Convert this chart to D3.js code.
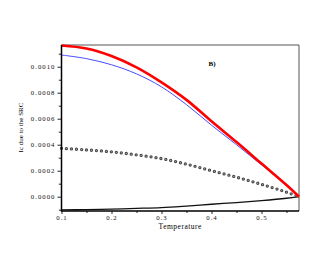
<!DOCTYPE html>
<html>
<head>
<meta charset="utf-8">
<script src="https://cdn.jsdelivr.net/npm/d3@7"></script>
<style>
  body { margin: 0; background: #fff; }
  svg { display: block; font-family: "Liberation Serif", "DejaVu Serif", serif; }
</style>
</head>
<body>
<div id="chart"></div>
<script>
// temperature samples
const temps = [0.1, 0.15, 0.2, 0.25, 0.3, 0.35, 0.4, 0.45, 0.5, 0.55, 0.575];

// series
const redVals = [0.001163, 0.00114, 0.001082, 0.000995, 0.00088, 0.000745, 0.00058, 0.00042, 0.000255, 0.00009, 0];
const blueVals = [0.00109, 0.001062, 0.001015, 0.000945, 0.000845, 0.000708, 0.00055, 0.0004, 0.000245, 0.000088, 0];
const dotVals = [0.000372, 0.00036, 0.000345, 0.000322, 0.000293, 0.00025, 0.0002, 0.00015, 0.000095, 0.000035, 0];
const blackVals = [-0.000102, -0.000099, -0.000095, -0.00009, -0.000084, -0.000072, -0.000058, -0.000045, -0.00003, -0.000012, 0];

const xMajor = [0.1, 0.2, 0.3, 0.4, 0.5];
const xMinor = [0.15, 0.25, 0.35, 0.45, 0.55];
const yMajor = [0, 0.0002, 0.0004, 0.0006, 0.0008, 0.001];
const yMinor = [-0.0001, 0.0001, 0.0003, 0.0005, 0.0007, 0.0009, 0.0011];

const W = 327, H = 273;
const mLeft = 61.5, mRight = 299, mTop = 45, mBottom = 211;

const svg = d3.select("#chart").append("svg")
  .attr("width", W).attr("height", H);

const x = d3.scaleLinear().domain([0.1, 0.575]).range([mLeft, mRight]);
const y = d3.scaleLinear().domain([-0.00011, 0.001167]).range([mBottom, mTop]);

// frame: top and right in gray
svg.append("path")
  .attr("d", `M${mLeft},${mTop}H${mRight}V${mBottom}`)
  .attr("fill", "none").attr("stroke", "#555").attr("stroke-width", 1);

const line = (vals) => d3.line()
  .x((d, i) => x(temps[i]))
  .y((d) => y(d))
  .curve(d3.curveCatmullRom)(vals);

// black curve
svg.append("path").attr("d", line(blackVals))
  .attr("fill", "none").attr("stroke", "#111").attr("stroke-width", 1.3);

// dotted curve: dark rim, light centre
svg.append("path").attr("d", line(dotVals))
  .attr("fill", "none").attr("stroke", "#444").attr("stroke-width", 3.3)
  .attr("stroke-linecap", "round").attr("stroke-dasharray", "0 5");
svg.append("path").attr("d", line(dotVals))
  .attr("fill", "none").attr("stroke", "#aaa").attr("stroke-width", 1.3)
  .attr("stroke-linecap", "round").attr("stroke-dasharray", "0 5");

// blue curve
svg.append("path").attr("d", line(blueVals))
  .attr("fill", "none").attr("stroke", "#4a4aff").attr("stroke-width", 1);

// red curve
svg.append("path").attr("d", line(redVals))
  .attr("fill", "none").attr("stroke", "#f00").attr("stroke-width", 2.6);

// axes
const fmtY = d3.format(".4f");
const yAx = svg.append("g").attr("transform", `translate(${mLeft},0)`)
  .call(d3.axisLeft(y).tickValues(yMajor).tickSize(4).tickPadding(2).tickFormat(fmtY));
const yAxMin = svg.append("g").attr("transform", `translate(${mLeft},0)`)
  .call(d3.axisLeft(y).tickValues(yMinor).tickSize(2.7).tickFormat(""));
const xAx = svg.append("g").attr("transform", `translate(0,${mBottom})`)
  .call(d3.axisBottom(x).tickValues(xMajor).tickSize(3).tickPadding(1).tickFormat(d3.format(".1f")));
const xAxMin = svg.append("g").attr("transform", `translate(0,${mBottom})`)
  .call(d3.axisBottom(x).tickValues(xMinor).tickSize(2).tickFormat(""));

[yAx, yAxMin, xAx, xAxMin].forEach((g) => {
  g.select(".domain").remove();
  g.selectAll("line").attr("stroke", "#111").attr("stroke-width", 0.9);
  g.selectAll("text")
    .attr("font-family", "Liberation Serif, serif")
    .attr("font-size", 6.8)
    .attr("letter-spacing", 1)
    .attr("fill", "#111");
});

// left and bottom axis lines
svg.append("path")
  .attr("d", `M${mLeft},${mTop}V${mBottom}H${mRight}`)
  .attr("fill", "none").attr("stroke", "#000").attr("stroke-width", 1.5);

// x title
svg.append("text")
  .attr("x", (mLeft + mRight) / 2).attr("y", 228.5)
  .attr("text-anchor", "middle")
  .attr("font-size", 7.5).attr("letter-spacing", 0.5)
  .text("Temperature");

// y title
svg.append("text")
  .attr("transform", "translate(23,127.5) rotate(-90)")
  .attr("text-anchor", "middle")
  .attr("font-size", 7)
  .text("Ic due to the SRC");

// panel label
svg.append("text")
  .attr("x", 212).attr("y", 66)
  .attr("text-anchor", "middle")
  .attr("font-size", 7).attr("font-weight", "bold")
  .text("B)");
</script>
</body>
</html>
